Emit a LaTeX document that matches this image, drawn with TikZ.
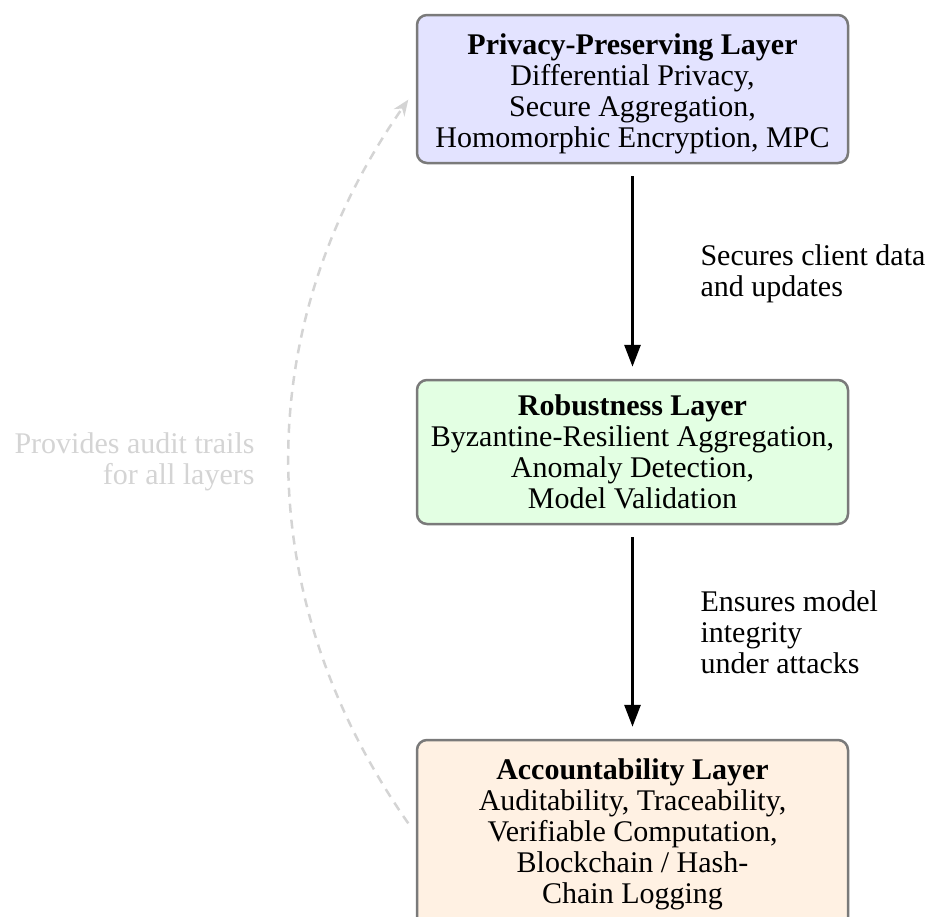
\documentclass[tikz,border=0pt]{standalone}
\usepackage{fontspec}
\setmainfont{Liberation Serif}
\usetikzlibrary{arrows.meta}
\begin{document}
\begin{tikzpicture}[x=1pt,y=-1pt,
  txt/.style={font=\fontsize{30}{31}\selectfont},
  layer/.style={txt, draw=black!52, line width=2.5pt, rounded corners=10pt,
    minimum width=431pt, align=center, inner sep=0pt},
  flow/.style={-{Triangle[length=22pt,width=16pt]}, line width=3pt,
    shorten <=12pt, shorten >=12pt},
  lbl/.style={txt, align=left, anchor=west, inner sep=0pt},
  audit/.style={draw=black!17, line width=2.5pt, dash pattern=on 9pt off 7pt,
    -{Stealth[length=16pt,width=13pt]}, shorten <=13pt, shorten >=13pt},
  auditlbl/.style={txt, text=black!17, align=right, anchor=east, inner sep=0pt}]
\useasboundingbox (0,0) rectangle (926,916);
\clip (0,0) rectangle (926,916);

\node[layer, fill=blue!11, minimum height=148pt] (priv) at (632.5,89)
  {\rule{0pt}{31pt}\textbf{Privacy-Preserving Layer}\\Differential Privacy,\\Secure Aggregation,\\Homomorphic Encryption, MPC};
\node[layer, fill=green!11, minimum height=144pt] (rob) at (632.5,452)
  {\textbf{Robustness Layer}\\Byzantine-Resilient Aggregation,\\Anomaly Detection,\\Model Validation};
\node[layer, fill=orange!11, minimum height=188pt] (acc) at (632.5,834)
  {\textbf{Accountability Layer}\\Auditability, Traceability,\\Verifiable Computation,\\Blockchain / Hash-\\Chain Logging};

\draw[flow] (priv) -- (rob)
  node[midway, lbl, xshift=66.5pt, yshift=-2pt] (l1) {Secures client data\\and updates};
\draw[flow] (rob) -- (acc)
  node[midway, lbl, xshift=66.5pt] (l2) {Ensures model\\integrity\\under attacks};
\draw[audit] (acc.west) to[bend left=35]
  node[midway, auditlbl, xshift=-35pt] (l3) {Provides audit trails\\for all layers} (priv.west);
\end{tikzpicture}
\end{document}
